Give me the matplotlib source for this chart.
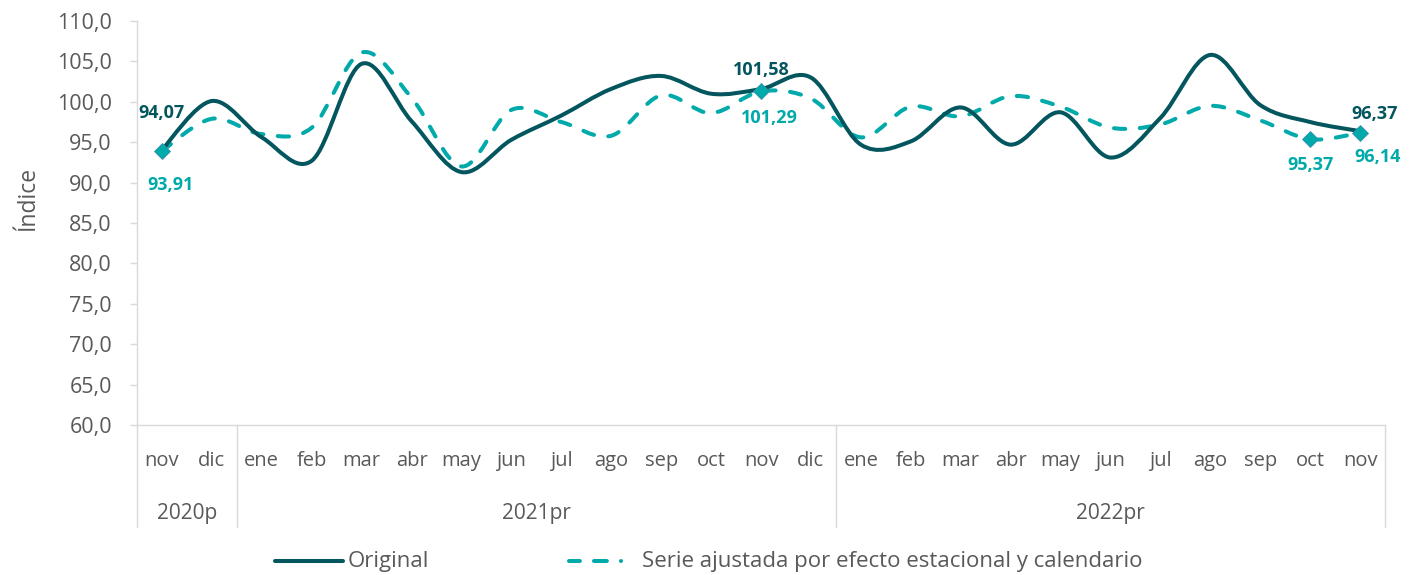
import matplotlib
matplotlib.use("Agg")
import matplotlib.pyplot as plt
import numpy as np
from matplotlib.path import Path
from matplotlib.patches import PathPatch
from matplotlib.lines import Line2D

plt.rcParams['font.family'] = ['Open Sans', 'DejaVu Sans']

months = ["nov", "dic",
          "ene", "feb", "mar", "abr", "may", "jun", "jul", "ago", "sep", "oct", "nov", "dic",
          "ene", "feb", "mar", "abr", "may", "jun", "jul", "ago", "sep", "oct", "nov"]
years = ["2020p", "2021pr", "2022pr"]
year_counts = [2, 12, 11]

original = [94.07, 100.1, 95.6, 92.7, 104.7, 97.6, 91.3, 95.3, 98.3, 101.6, 103.2, 101.0,
            101.58, 103.0, 94.7, 95.1, 99.3, 94.7, 98.7, 93.1, 98.0, 105.8, 99.6, 97.5, 96.37]
ajustada = [93.91, 97.9, 96.0, 96.8, 106.1, 100.5, 92.0, 99.0, 97.5, 95.8, 100.8, 98.6,
            101.29, 100.4, 95.6, 99.4, 98.2, 100.7, 99.4, 96.8, 97.2, 99.5, 97.7, 95.37, 96.14]
series_names = ["Original", "Serie ajustada por efecto estacional y calendario"]

label_orig_idx = [0, 12, 24]
label_adj_idx = [0, 12, 23, 24]
marker_idx = [0, 12, 23, 24]

DARK = '#03565E'
TEAL = '#00A9AA'
GRAY = '#595959'
LINEG = '#D9D9D9'
W, H = 1416, 575

fig = plt.figure(figsize=(W/100, H/100), dpi=100)
ax = fig.add_axes([137/W, 1-425/H, 1248/W, 404/H])
n = len(months)
xs = np.arange(n)
ax.set_xlim(-0.5, n-0.5)
ax.set_ylim(60, 110)


def smooth_path(x, y):
    # Excel-like smoothed line: cubic Bezier with Catmull-Rom control points
    pts = np.column_stack([x, y]).astype(float)
    verts = [pts[0]]
    codes = [Path.MOVETO]
    m = len(pts)
    for i in range(m-1):
        p0 = pts[i-1] if i > 0 else pts[i]
        p1 = pts[i]
        p2 = pts[i+1]
        p3 = pts[i+2] if i+2 < m else pts[i+1]
        c1 = p1 + (p2 - p0) / 6.0
        c2 = p2 - (p3 - p1) / 6.0
        verts += [c1, c2, p2]
        codes += [Path.CURVE4]*3
    return Path(verts, codes)


DASH = (0, (2.8, 3.6))
ax.add_patch(PathPatch(smooth_path(xs, ajustada), fill=False, edgecolor=TEAL, lw=2.9,
                       linestyle=DASH, capstyle='round', zorder=3))
ax.add_patch(PathPatch(smooth_path(xs, original), fill=False, edgecolor=DARK, lw=2.9,
                       capstyle='round', joinstyle='round', zorder=4))
ax.plot([xs[i] for i in marker_idx], [ajustada[i] for i in marker_idx], linestyle='none',
        marker='D', markersize=8, color=TEAL, markeredgecolor='#3E8FB0', markeredgewidth=0.6,
        zorder=5)


def fmt(v):
    return f"{v:.2f}".replace('.', ',')


# data labels (offsets in pixels)
orig_off = {0: (0, 37), 12: (0, 19), 24: (15, 17)}
adj_off = {0: (9, -34), 12: (8, -27), 23: (0, -26), 24: (18, -24)}
for i in label_orig_idx:
    dx, dy = orig_off[i]
    ax.annotate(fmt(original[i]), (xs[i], original[i]), xytext=(dx, dy), textcoords='offset pixels',
                ha='center', va='center', color=DARK, fontsize=13, fontweight='bold', zorder=6)
for i in label_adj_idx:
    dx, dy = adj_off[i]
    ax.annotate(fmt(ajustada[i]), (xs[i], ajustada[i]), xytext=(dx, dy), textcoords='offset pixels',
                ha='center', va='center', color=TEAL, fontsize=13, fontweight='bold', zorder=6)

# y axis
yt = np.arange(60, 111, 5)
ax.set_yticks(yt)
ax.set_yticklabels([f"{v:.1f}".replace('.', ',') for v in yt], color=GRAY, fontsize=15.5)
ax.tick_params(axis='y', length=5, width=1, color=LINEG, pad=13)
fig.text(28/W, 1-198/H, "Índice", rotation=90, ha='center', va='center', color=GRAY, fontsize=16.5)

for s in ['top', 'right']:
    ax.spines[s].set_visible(False)
for s in ['left', 'bottom']:
    ax.spines[s].set_color(LINEG)
    ax.spines[s].set_linewidth(1)

ax.set_xticks([])
trans = ax.get_xaxis_transform()
for i, m in enumerate(months):
    ax.text(xs[i], -36/404, m, transform=trans, ha='center', va='center', color=GRAY, fontsize=14.5)
start = 0
bounds = [-0.5]
for y, c in zip(years, year_counts):
    center = start + (c - 1) / 2
    ax.text(center, -88/404, y, transform=trans, ha='center', va='center', color=GRAY, fontsize=15)
    start += c
    bounds.append(start - 0.5)
for b in bounds:
    ax.plot([b, b], [0, -102/404], transform=trans, color=LINEG, lw=1, clip_on=False)

# legend (manual, figure pixel coordinates)
ly = 1 - 561/H
fig.add_artist(Line2D([275/W, 343/W], [ly, ly], color=DARK, lw=2.9, solid_capstyle='round'))
fig.text(348/W, ly, series_names[0], ha='left', va='center', color=GRAY, fontsize=16)
fig.add_artist(Line2D([569/W, 636/W], [ly, ly], color=TEAL, lw=2.9,
                      linestyle=(0, (2.7, 3.5, 3.2, 3.5, 0.01, 5)), dash_capstyle='round'))
fig.text(642/W, ly, series_names[1], ha='left', va='center', color=GRAY, fontsize=16)

fig.savefig("out.png", dpi=100)
